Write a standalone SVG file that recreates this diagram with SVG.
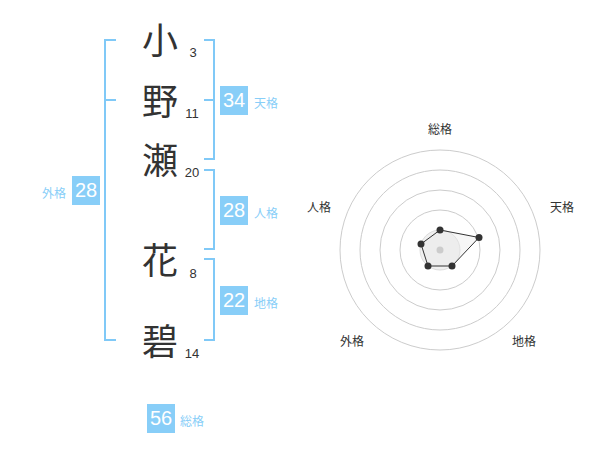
<svg xmlns="http://www.w3.org/2000/svg" width="600" height="470" viewBox="0 0 600 470">
<style>
.kj{font-family:"Noto Sans CJK JP","Noto Sans CJK SC",sans-serif;font-size:36px;fill:#333;text-anchor:middle}
.st{font-family:"Liberation Sans",Arial,sans-serif;font-size:13px;fill:#333;text-anchor:middle}
.br{fill:none;stroke:#80C9F7;stroke-width:2}
.box{fill:#88CEF8}
.bn{font-family:"Liberation Sans",Arial,sans-serif;font-size:20px;fill:#fff;text-anchor:middle}
.bl{font-family:"Noto Sans CJK JP","Noto Sans CJK SC",sans-serif;font-size:12px;fill:#88CEF8}
.rl{font-family:"Noto Sans CJK JP","Noto Sans CJK SC",sans-serif;font-size:12px;fill:#333;text-anchor:middle}
.ring{fill:none;stroke:#cccccc;stroke-width:1}
</style>
<rect width="600" height="470" fill="#fff"/>
<g id="name">
<g id="c1"><text class="kj" x="160" y="54">小</text><text class="st" x="193" y="57">3</text></g>
<g id="c2"><text class="kj" x="160" y="115">野</text><text class="st" x="192" y="118">11</text></g>
<g id="c3"><text class="kj" x="160" y="174">瀬</text><text class="st" x="192" y="177">20</text></g>
<g id="c4"><text class="kj" x="160" y="274">花</text><text class="st" x="193" y="278">8</text></g>
<g id="c5"><text class="kj" x="160" y="355">碧</text><text class="st" x="192" y="358">14</text></g>
</g>
<g id="connectors">
<path class="br" d="M116,40 H105 V340 H116 M105,100 H116"/>
<path class="br" d="M204,40 H214 V159 H204 M204,100 H214"/>
<path class="br" d="M204,170 H214 V249 H204"/>
<path class="br" d="M204,259 H214 V340 H204"/>
</g>
<g id="tenkaku"><rect class="box" x="220" y="86" width="28" height="29"/><text class="bn" x="234" y="107">34</text><text class="bl" x="254" y="108">天格</text></g>
<g id="jinkaku"><rect class="box" x="220" y="196" width="28" height="29"/><text class="bn" x="234" y="217">28</text><text class="bl" x="254" y="218">人格</text></g>
<g id="chikaku"><rect class="box" x="220" y="286" width="28" height="29"/><text class="bn" x="234" y="307">22</text><text class="bl" x="254" y="308">地格</text></g>
<g id="gaikaku"><rect class="box" x="72" y="176" width="28" height="29"/><text class="bn" x="86" y="197">28</text><text class="bl" x="42" y="198">外格</text></g>
<g id="soukaku"><rect class="box" x="147" y="404" width="28" height="29"/><text class="bn" x="161" y="425">56</text><text class="bl" x="180" y="426">総格</text></g>
<g id="radar">
<circle class="ring" cx="440" cy="250" r="100"/>
<circle class="ring" cx="440" cy="250" r="80"/>
<circle class="ring" cx="440" cy="250" r="60"/>
<circle class="ring" cx="440" cy="250" r="40"/>
<circle cx="440" cy="250" r="20" fill="#f0f0f0" stroke="#dddddd" stroke-width="1"/>
<polygon points="440,230 479,237.5 452,266 428,266 421,244" fill="#e8e8e8" fill-opacity="0.4" stroke="#333" stroke-width="1"/>
<circle cx="440" cy="250" r="3.5" fill="#cccccc"/>
<g fill="#333">
<circle cx="440" cy="230" r="3.5"/><circle cx="479" cy="237.5" r="3.5"/><circle cx="452" cy="266" r="3.5"/><circle cx="428" cy="266" r="3.5"/><circle cx="421" cy="244" r="3.5"/>
</g>
<text class="rl" x="440" y="134">総格</text>
<text class="rl" x="562" y="212">天格</text>
<text class="rl" x="319" y="212">人格</text>
<text class="rl" x="352" y="346">外格</text>
<text class="rl" x="524" y="346">地格</text>
</g>
</svg>
